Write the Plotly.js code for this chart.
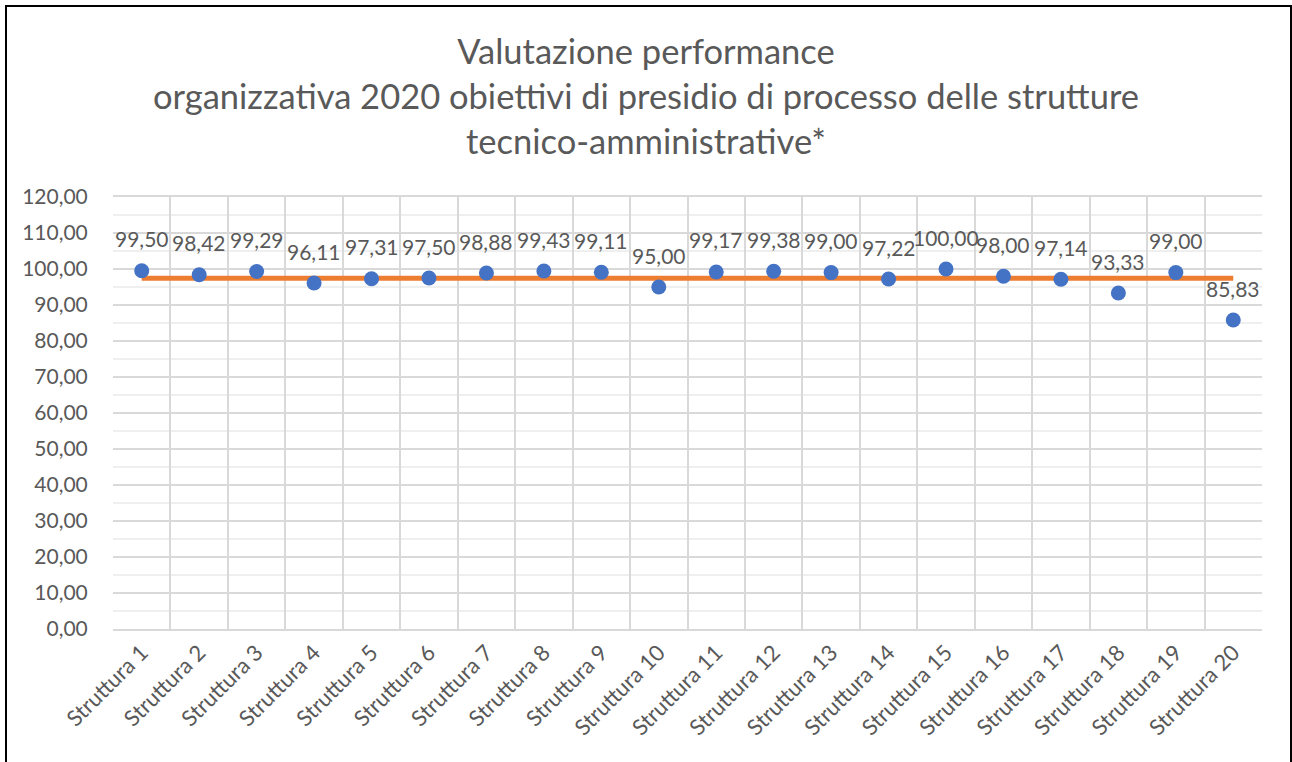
<!DOCTYPE html>
<html>
<head>
<meta charset="utf-8">
<script src="https://cdn.plot.ly/plotly-3.0.1.min.js"></script>
<style>
  html, body { margin: 0; padding: 0; background: #ffffff; }
  #wrap { position: relative; width: 1292px; height: 762px; overflow: hidden; }
  #chart { position: absolute; left: 0; top: 0; width: 1292px; height: 762px; }
  #frame { position: absolute; left: 5px; top: 5px; width: 1283px; height: 800px;
           border: 2px solid #000; pointer-events: none; }
</style>
</head>
<body>
<div id="wrap">
  <div id="chart"></div>
  <div id="frame"></div>
</div>
<script>
const categories = ["Struttura 1","Struttura 2","Struttura 3","Struttura 4","Struttura 5",
  "Struttura 6","Struttura 7","Struttura 8","Struttura 9","Struttura 10",
  "Struttura 11","Struttura 12","Struttura 13","Struttura 14","Struttura 15",
  "Struttura 16","Struttura 17","Struttura 18","Struttura 19","Struttura 20"];
const valori = [99.50, 98.42, 99.29, 96.11, 97.31, 97.50, 98.88, 99.43, 99.11, 95.00,
  99.17, 99.38, 99.00, 97.22, 100.00, 98.00, 97.14, 93.33, 99.00, 85.83];
const media = [97.43, 97.43, 97.43, 97.43, 97.43, 97.43, 97.43, 97.43, 97.43, 97.43,
  97.43, 97.43, 97.43, 97.43, 97.43, 97.43, 97.43, 97.43, 97.43, 97.43];
const yTicks = [0,10,20,30,40,50,60,70,80,90,100,110,120];
const titolo = "Valutazione performance<br>organizzativa 2020 obiettivi di presidio di processo delle strutture<br>tecnico-amministrative*";

const FONT = "Lato, Carlito, Calibri, sans-serif";
const TXT = "#595959";

function fmt(v) { return v.toFixed(2).replace('.', ','); }

const traces = [
  {
    x: categories, y: media, type: 'scatter', mode: 'lines',
    line: { color: '#ED7D31', width: 5 }, hoverinfo: 'skip', showlegend: false
  },
  {
    x: categories, y: valori, type: 'scatter', mode: 'markers',
    marker: { color: '#4472C4', size: 15 }, showlegend: false
  }
];

const annotations = categories.map((c, i) => ({
  x: c, y: valori[i], xref: 'x', yref: 'y', text: fmt(valori[i]),
  showarrow: false, yshift: 32, font: { family: FONT, size: 21, color: TXT }
}));

const layout = {
  width: 1292, height: 762,
  paper_bgcolor: '#ffffff', plot_bgcolor: '#ffffff',
  margin: { l: 113, r: 30, t: 197, b: 133 },
  separators: ',.',
  title: {
    text: titolo, x: 0.5, xanchor: 'center',
    y: 1 - 64/762, yref: 'container', yanchor: 'middle',
    font: { family: FONT, size: 34.5, color: TXT }
  },
  xaxis: {
    type: 'category', tickson: 'boundaries', range: [-0.5, 19.5],
    showgrid: true, gridcolor: '#d9d9d9', gridwidth: 2,
    showline: true, linecolor: '#d9d9d9', linewidth: 2, mirror: true,
    ticks: 'outside', ticklen: 8, tickcolor: 'rgba(0,0,0,0)', tickangle: -45,
    tickfont: { family: FONT, size: 22, color: TXT },
    zeroline: false, fixedrange: true
  },
  yaxis: {
    range: [0, 120], tickvals: yTicks, tickformat: '.2f',
    showgrid: true, gridcolor: '#d9d9d9', gridwidth: 2,
    minor: { dtick: 5, showgrid: true, gridcolor: '#efefef', gridwidth: 2 },
    zeroline: false, showline: false,
    ticks: 'outside', ticklen: 20, tickcolor: 'rgba(0,0,0,0)',
    tickfont: { family: FONT, size: 21, color: TXT },
    fixedrange: true
  },
  annotations: annotations,
  showlegend: false
};

Plotly.newPlot('chart', traces, layout, { displayModeBar: false, staticPlot: true });
</script>
</body>
</html>
